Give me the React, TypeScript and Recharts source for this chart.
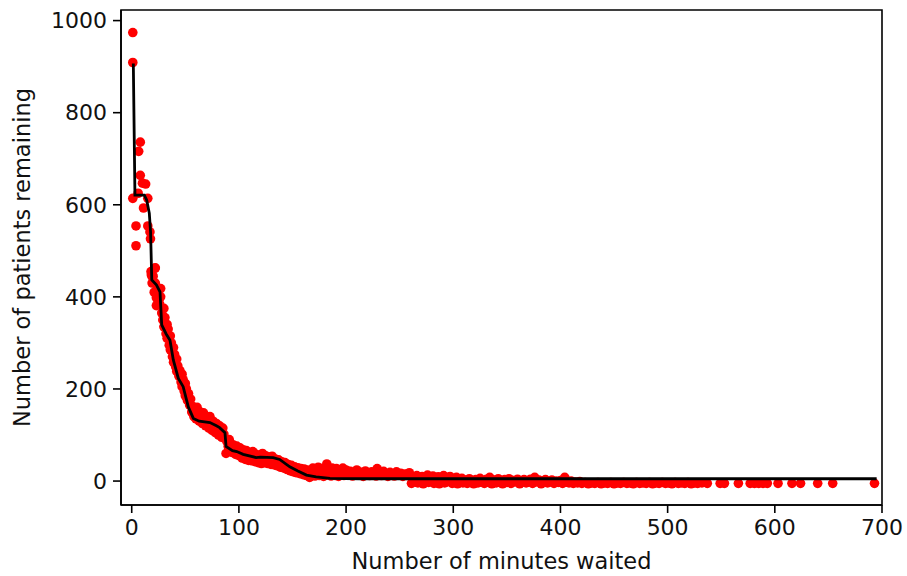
import { ScatterChart, Scatter, XAxis, YAxis, ReferenceArea, Label } from 'recharts';

const firstMinutes: [number, number][] = [
  [1, 974], [1, 909], [8, 736], [6.5, 716], [8, 664], [10, 647], [13, 645], [6, 625],
  [1, 614], [15, 614], [11, 593], [4, 554], [15, 554], [17, 541], [17.5, 526], [4, 511],
  [22, 463], [19, 444], [27, 418], [23, 398], [21.7, 462], [18.3, 448], [23, 381],
];

const steepDrop: [number, number][] = [
  [18, 455], [19, 430], [20, 445], [21, 410], [22, 430], [23, 405], [24, 420], [25, 395],
  [26, 385], [27, 400], [28, 365], [29, 350], [30, 375], [30, 335], [31, 355], [32, 320],
  [33, 340], [33, 310], [34, 330], [35, 295], [36, 315], [36, 285], [37, 300], [38, 270],
  [39, 290], [39, 258], [40, 275], [41, 248], [42, 265], [42, 238], [43, 250], [44, 228],
  [45, 240], [46, 215], [47, 232], [47, 205], [48, 220], [49, 195], [50, 212], [50, 185],
  [51, 200], [52, 175], [53, 190], [54, 165], [55, 178], [56, 150], [57, 162], [58, 140],
  [59, 155], [60, 135], [61, 160], [62, 145], [63, 130], [64, 150], [65, 140], [66, 125],
  [67, 148], [68, 135], [69, 120], [70, 138], [71, 128], [72, 115], [73, 140], [74, 125],
  [75, 110], [76, 130], [77, 118], [78, 105], [79, 125], [80, 112], [81, 100], [82, 120],
  [83, 108], [84, 95], [85, 115], [86, 102], [87, 92], [88, 60], [89, 85], [90, 75],
];

const slowDecline: [number, number][] = [
  [91, 90], [92, 68], [93, 80], [94, 62], [95, 78], [96, 70], [97, 58], [98, 76],
  [99, 64], [100, 55], [101, 72], [102, 60], [103, 50], [104, 68], [105, 56], [106, 47],
  [107, 66], [108, 54], [109, 45], [110, 62], [111, 52], [112, 44], [113, 64], [114, 50],
  [115, 42], [116, 58], [117, 47], [118, 40], [119, 56], [120, 46], [121, 38], [122, 60],
  [123, 48], [124, 40], [125, 55], [126, 45], [127, 38], [128, 52], [129, 44], [130, 36],
  [131, 54], [132, 42], [133, 35], [134, 48], [135, 40], [136, 33], [137, 46], [138, 38],
  [139, 30], [140, 42], [141, 35], [142, 28], [143, 40], [144, 32], [145, 25], [146, 36],
  [147, 29], [148, 22], [149, 34], [150, 26], [151, 20], [152, 31], [153, 24], [154, 18],
  [155, 29], [156, 22], [157, 16], [158, 27], [159, 20], [160, 14], [161, 26], [162, 18],
  [163, 12], [164, 24], [165, 16], [166, 8], [167, 22], [168, 14], [169, 28], [170, 18],
  [171, 11], [172, 25], [173, 16], [174, 30], [175, 12], [176, 21], [177, 27], [178, 15],
  [179, 10], [180, 24], [181, 18], [182, 37], [183, 13], [184, 26], [185, 20], [186, 11],
  [187, 28], [188, 16], [189, 22], [190, 12], [191, 27], [192, 18], [193, 10], [194, 24],
  [195, 15], [196, 20], [197, 28], [198, 12], [199, 19], [200, 24],
];

const lateWaits: [number, number][] = [
  [202, 14], [204, 21], [206, 11], [208, 18], [210, 24], [212, 13], [214, 19], [216, 10],
  [218, 22], [220, 15], [222, 12], [224, 20], [226, 16], [228, 11], [229, 27], [231, 18],
  [233, 12], [235, 21], [237, 14], [239, 10], [241, 19], [243, 15], [245, 11], [247, 20],
  [249, 13], [251, 17], [253, 10], [255, 15], [257, 12], [259, 18],
  [261, -5], [262, 8], [264, 2], [266, 12], [267, -4], [269, 5], [271, 10], [272, -6],
  [274, 3], [276, 13], [277, -3], [279, 6], [281, 11], [282, -5], [284, 1], [286, 9],
  [287, -6], [289, 4], [291, 12], [292, -4], [294, 7], [296, -1], [297, 10], [299, -5],
  [301, 3], [303, 8], [304, -6], [306, 1], [308, 6], [309, -4],
  [311, 2], [313, -5], [315, 5], [317, -2], [319, -6], [321, 3], [323, -4], [325, 6],
  [327, 0], [329, -5], [331, 4], [333, -3], [334, 8], [336, -6], [338, 2], [340, -4],
  [342, 5], [344, -1], [346, -6], [348, 3], [350, -3], [352, 5], [354, -5], [356, 1],
  [358, -2], [360, 4], [362, -6], [364, 0], [366, 3], [368, -4], [370, -1], [372, 4],
  [374, -5], [376, 8], [378, -2], [380, 2], [382, -6], [384, 0], [386, 3], [388, -4],
  [390, -1], [392, 2], [394, -5], [396, 0], [398, -3], [400, 1], [402, -5], [404, 8],
  [406, -2], [408, -4], [410, 0], [412, -5], [414, -2], [416, -4], [418, -1],
];

const longestWaits: [number, number][] = [
  [420, -5], [423, -3], [426, -6], [429, -4], [432, -5], [435, -3], [438, -6], [441, -4],
  [444, -5], [447, -3], [450, -6], [453, -4], [456, -5], [459, -3], [462, -5], [465, -4],
  [468, -6], [471, -3], [474, -5], [477, -4], [480, -5], [483, -3], [486, -6], [489, -4],
  [492, -5], [495, -3], [498, -5], [501, -4], [504, -6], [507, -3], [510, -5], [513, -4],
  [516, -5], [519, -3], [522, -6], [525, -4], [528, -5], [532, -4],
  [537, -5], [549, -5], [553, -5], [566, -5], [577, -5], [581, -5], [585, -5], [589, -5],
  [593, -5], [603, -5], [616, -5], [624, -5], [640, -5], [654, -5], [693, -5],
];

// fitted curve (black line)
const curveMinutes = [
  1.5, 3, 11.8, 14, 16.4, 17.6, 18.7, 23, 26.4, 28, 32, 35.7, 38.8, 43.5, 48, 52.8, 57.5,
  63, 73, 79, 82, 87, 88, 94, 98, 104, 116, 120, 132, 138, 147.5, 155, 163, 172, 185, 213, 695,
];
const curveRemaining = [
  907, 621, 621, 610, 582, 541, 437, 426, 411, 339, 320, 306, 263, 223, 205, 161, 136,
  130, 127, 120, 116, 105, 75, 66, 64, 58, 51, 52, 51, 47, 31, 22, 13, 9, 6, 5, 5,
];

const xTicks = [0, 100, 200, 300, 400, 500, 600, 700];
const yTicks = [0, 200, 400, 600, 800, 1000];

const observed = [...firstMinutes, ...steepDrop, ...slowDecline, ...lateWaits, ...longestWaits].map(
  ([x, y]) => ({ x, y })
);
const curve = curveMinutes.map((x, i) => ({ x, y: curveRemaining[i] }));

const FONT = 'DejaVu Sans';

export default function App() {
  return (
    <div style={{ position: 'absolute', left: 0, top: 0, background: '#fff' }}>
      <ScatterChart width={907} height={576} margin={{ top: 10, right: 25, bottom: 0, left: 0 }}>
        <XAxis
          type="number"
          dataKey="x"
          domain={[-10, 700]}
          ticks={xTicks}
          allowDataOverflow
          height={71}
          tickSize={8}
          tickMargin={6}
          stroke="#000"
          tickLine={{ stroke: '#000', strokeWidth: 1.6 }}
          axisLine={{ stroke: '#000', strokeWidth: 1.6 }}
          tick={{ fontSize: 22, fill: '#111', fontFamily: FONT }}
        >
          <Label
            content={({ viewBox }: any) => (
              <text
                x={viewBox.x + viewBox.width / 2}
                y={viewBox.y + 64}
                textAnchor="middle"
                fontSize={22.5}
                fontFamily={FONT}
                fill="#111"
              >
                Number of minutes waited
              </text>
            )}
          />
        </XAxis>
        <YAxis
          type="number"
          dataKey="y"
          domain={[-52, 1023]}
          ticks={yTicks}
          allowDataOverflow
          width={121}
          tickSize={8}
          tickMargin={6}
          stroke="#000"
          tickLine={{ stroke: '#000', strokeWidth: 1.6 }}
          axisLine={{ stroke: '#000', strokeWidth: 1.6 }}
          tick={{ fontSize: 22, fill: '#111', fontFamily: FONT }}
        >
          <Label
            content={({ viewBox }: any) => {
              const cx = viewBox.x + 30;
              const cy = viewBox.y + viewBox.height / 2;
              return (
                <text
                  x={cx}
                  y={cy}
                  transform={`rotate(-90, ${cx}, ${cy})`}
                  textAnchor="middle"
                  fontSize={22.5}
                  fontFamily={FONT}
                  fill="#111"
                >
                  Number of patients remaining
                </text>
              );
            }}
          />
        </YAxis>
        <ReferenceArea
          x1={-10}
          x2={700}
          y1={-52}
          y2={1023}
          fill="none"
          stroke="#000"
          strokeWidth={1.6}
          ifOverflow="visible"
        />
        <Scatter
          data={observed}
          fill="#ff0000"
          isAnimationActive={false}
          shape={(p: any) => <circle cx={p.cx} cy={p.cy} r={4.8} fill="#ff0000" />}
        />
        <Scatter
          data={curve}
          line={{ stroke: '#000', strokeWidth: 2.8 }}
          lineType="joint"
          isAnimationActive={false}
          shape={() => <g />}
        />
      </ScatterChart>
    </div>
  );
}
